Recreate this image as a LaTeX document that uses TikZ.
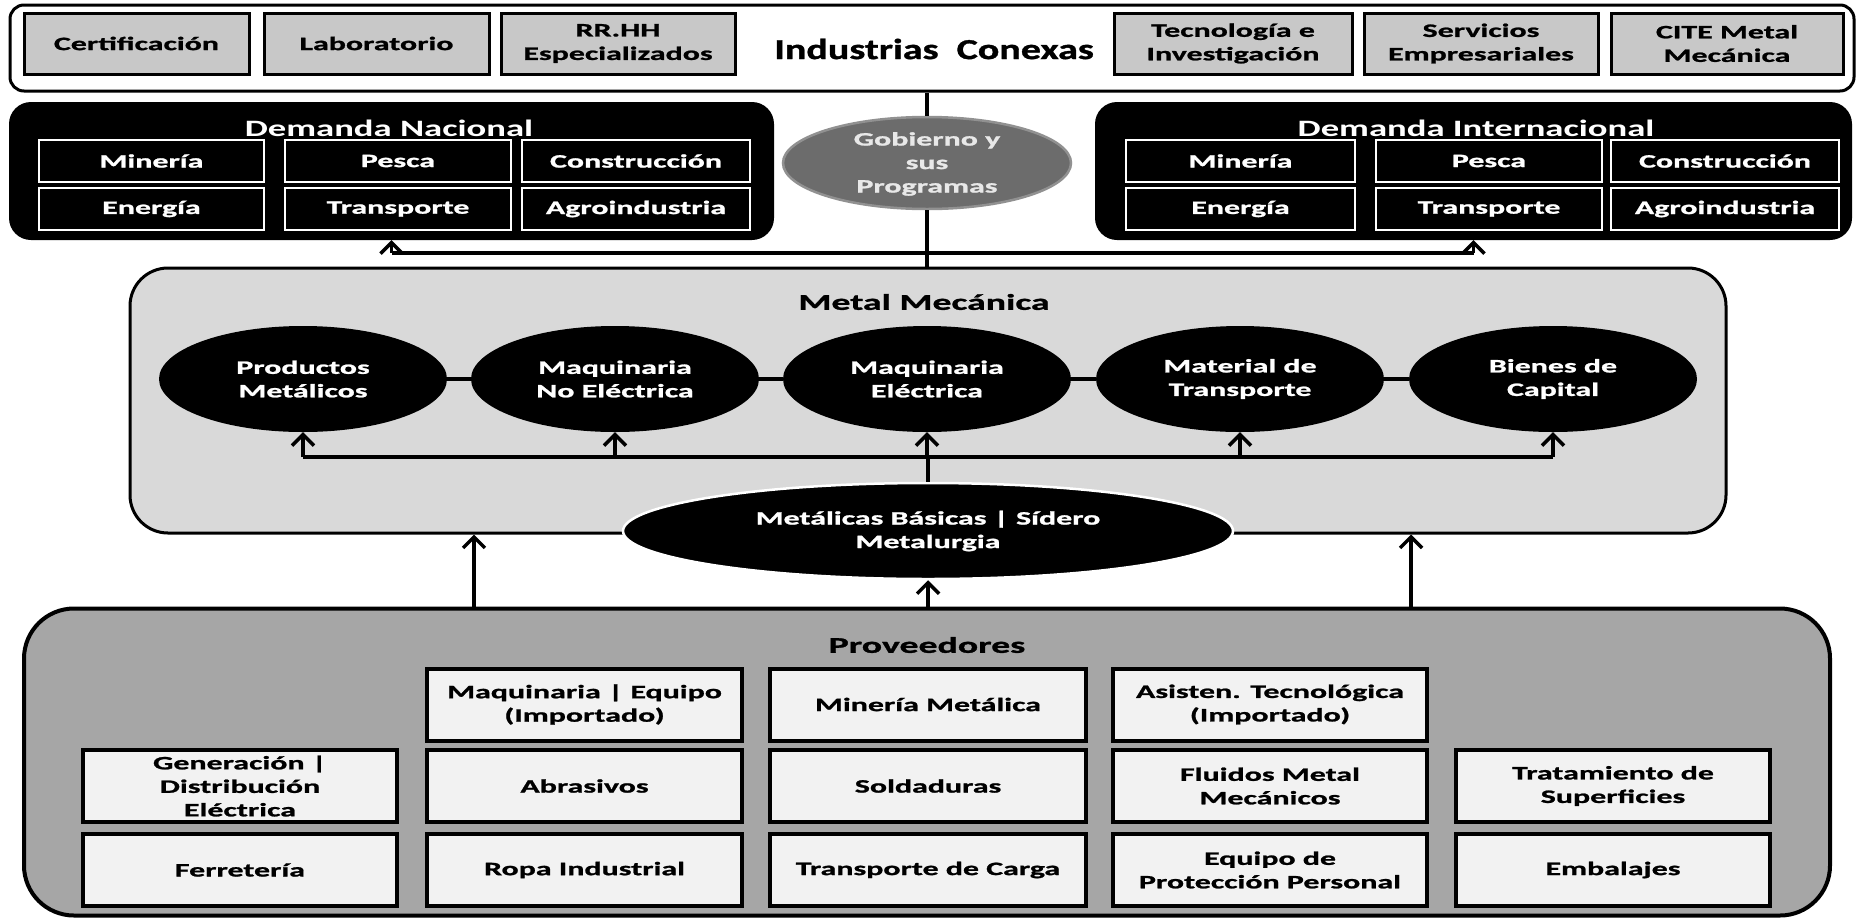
\documentclass[tikz,border=0pt]{standalone}
\usepackage{fontspec}
\setmainfont{Carlito}[FakeStretch=1.68, BoldFeatures={FakeBold=1.2}]
\newfontfamily\icfont{Carlito}[FakeStretch=1.38, BoldFeatures={FakeBold=1.2}]
\newfontfamily\dmfont{Carlito}[FakeStretch=1.56]
\usetikzlibrary{shapes.geometric,arrows.meta}
\definecolor{cTop}{RGB}{200,200,200}
\definecolor{cMM}{RGB}{217,217,217}
\definecolor{cProv}{RGB}{166,166,166}
\definecolor{cPBox}{RGB}{242,242,242}
\definecolor{cGob}{RGB}{108,108,108}
\definecolor{cGobRim}{RGB}{145,145,145}
\definecolor{cGobTxt}{RGB}{232,232,232}
\newcommand\fLbl{\fontsize{19}{23.5}\selectfont\bfseries}
\newcommand\fTtl{\fontsize{22.5}{26}\selectfont\bfseries}
\newcommand\fDem{\dmfont\fontsize{23.5}{28}\selectfont\bfseries}
\newcommand\fBig{\icfont\fontsize{29}{32}\selectfont\bfseries}
\begin{document}
\begin{tikzpicture}[x=1pt,y=-1pt,
  lbl/.style={font=\fLbl, align=center, inner sep=0pt},
  topg/.style={rectangle, draw=black, line width=3pt, fill=cTop, lbl, minimum height=61pt},
  dbox/.style={rectangle, fill=black, rounded corners=22pt, minimum height=138pt},
  dsub/.style={rectangle, draw=white, line width=2.5pt, fill=black, text=white, lbl, minimum height=42pt},
  pbox/.style={rectangle, draw=black, line width=4pt, fill=cPBox, lbl, minimum height=72pt},
  mmell/.style={ellipse, fill=black, text=white, lbl, minimum width=288pt, minimum height=106pt},
  conn/.style={line width=3.5pt},
  arr/.style={line width=3.5pt, -{Straight Barb[length=11pt,width=22pt]}},
]
\useasboundingbox (0,0) rectangle (1862,919);

% ---------- Industrias Conexas ----------
\node[rectangle, draw=black, line width=3pt, fill=white, rounded corners=14pt,
      minimum width=1844pt, minimum height=86pt] (ic) at (932,48) {};
\node[topg, minimum width=225pt] (cert) at (136.5,43.5) {Certificación};
\node[topg, minimum width=225pt] (lab) at (376.5,43.5) {Laboratorio};
\node[topg, minimum width=234pt] (rrhh) at (618,43.5) {RR.HH\\Especializados};
\node[font=\fBig, inner sep=0pt] (ict) at (934,49) {Industrias\ \ Conexas};
\node[topg, minimum width=238pt] (tec) at (1233,43.5) {Tecnología e\\Investigación};
\node[topg, minimum width=234pt] (serv) at (1481,43.5) {Servicios\\Empresariales};
\node[topg, minimum width=232pt] (cite) at (1727,43.5) {CITE Metal\\Mecánica};

% ---------- Demanda ----------
\node[dbox, minimum width=765pt] (dn) at (391.5,171) {};
\node[font=\fDem, text=white, inner sep=0pt, anchor=base] (dnt) at (389,136) {Demanda Nacional};
\node[dsub, minimum width=225pt] (dn1) at (151.5,161) {Minería};
\node[dsub, minimum width=226pt] (dn2) at (398,161) {Pesca};
\node[dsub, minimum width=228pt] (dn3) at (636,161) {Construcción};
\node[dsub, minimum width=225pt] (dn4) at (151.5,209) {Energía};
\node[dsub, minimum width=226pt] (dn5) at (398,209) {Transporte};
\node[dsub, minimum width=228pt] (dn6) at (636,209) {Agroindustria};

\node[dbox, minimum width=757pt] (di) at (1473.5,171) {};
\node[font=\fDem, text=white, inner sep=0pt, anchor=base] (dit) at (1476,136) {Demanda Internacional};
\node[dsub, minimum width=229pt] (di1) at (1240.5,161) {Minería};
\node[dsub, minimum width=226pt] (di2) at (1489,161) {Pesca};
\node[dsub, minimum width=228pt] (di3) at (1725,161) {Construcción};
\node[dsub, minimum width=229pt] (di4) at (1240.5,209) {Energía};
\node[dsub, minimum width=226pt] (di5) at (1489,209) {Transporte};
\node[dsub, minimum width=228pt] (di6) at (1725,209) {Agroindustria};

% ---------- Metal Mecanica ----------
\node[rectangle, draw=black, line width=3pt, fill=cMM, rounded corners=38pt,
      minimum width=1596pt, minimum height=265pt] (mm) at (928,400.5) {};
\node[font=\fTtl, inner sep=0pt] (mmt) at (924,302) {Metal Mecánica};

% ---------- Proveedores ----------
\node[rectangle, draw=black, line width=4pt, fill=cProv, rounded corners=50pt,
      minimum width=1806pt, minimum height=307pt] (prov) at (927,762) {};
\node[font=\fTtl, inner sep=0pt] (provt) at (927,645) {Proveedores};

\node[pbox, minimum width=315pt] (p1) at (584.5,704.5) {Maquinaria | Equipo\\(Importado)};
\node[pbox, minimum width=316pt] (p2) at (928,704.5) {Minería Metálica};
\node[pbox, minimum width=314pt] (p3) at (1270,704.5) {Asisten. Tecnológica\\(Importado)};
\node[pbox, minimum width=314pt] (p4) at (240,786) {Generación |\\Distribución\\Eléctrica};
\node[pbox, minimum width=315pt] (p5) at (584.5,786) {Abrasivos};
\node[pbox, minimum width=316pt] (p6) at (928,786) {Soldaduras};
\node[pbox, minimum width=314pt] (p7) at (1270,786) {Fluidos Metal\\Mecánicos};
\node[pbox, minimum width=314pt] (p8) at (1613,786) {Tratamiento de\\Superficies};
\node[pbox, minimum width=314pt] (p9) at (240,870) {Ferretería};
\node[pbox, minimum width=315pt] (p10) at (584.5,870) {Ropa Industrial};
\node[pbox, minimum width=316pt] (p11) at (928,870) {Transporte de Carga};
\node[pbox, minimum width=314pt] (p12) at (1270,870) {Equipo de\\Protección Personal};
\node[pbox, minimum width=314pt] (p13) at (1613,870) {Embalajes};

% ---------- Gobierno ----------
\node[ellipse, fill=cGob, draw=cGobRim, line width=2.5pt, inner sep=0pt,
      minimum width=288pt, minimum height=92pt] (gob) at (927,163) {};
\node[lbl, text=cGobTxt] (gobt) at (927,164) {Gobierno y\\sus\\Programas};

% ---------- ellipses in Metal Mecanica ----------
\node[mmell] (pm) at (303,379) {Productos\\Metálicos};
\node[mmell] (mne) at (615,379) {Maquinaria\\No Eléctrica};
\node[mmell] (me) at (927,379) {Maquinaria\\Eléctrica};
\node[mmell] (mt) at (1240,379) {Material de\\Transporte};
\node[mmell] (bc) at (1553,379) {Bienes de\\Capital};

\node[ellipse, fill=black, draw=white, line width=2.5pt, text=white, lbl,
      minimum width=610pt, minimum height=96pt] (met) at (928,531) {Metálicas Básicas | Sídero\\Metalurgia};

% ---------- connectors ----------
\coordinate (dbar) at (0,253);
\coordinate (mbar) at (0,457);
\coordinate (xL) at (474,0);
\coordinate (xR) at (1411,0);

\draw[conn] (gob.north) -- (gob.north |- ic.south);
\draw[conn] (gob.south |- mm.north) -- (gob.south);
\draw[conn] (dn.south |- dbar) -- (di.south |- dbar);
\draw[arr] (dn.south |- dbar) -- (dn.south);
\draw[arr] (di.south |- dbar) -- (di.south);

\draw[conn] (pm) -- (mne);
\draw[conn] (mne) -- (me);
\draw[conn] (me) -- (mt);
\draw[conn] (mt) -- (bc);
\draw[conn] (pm.south |- mbar) -- (bc.south |- mbar);
\draw[conn] (met.north) -- (met.north |- mbar);
\draw[arr] (pm.south |- mbar) -- (pm.south);
\draw[arr] (mne.south |- mbar) -- (mne.south);
\draw[arr] (me.south |- mbar) -- (me.south);
\draw[arr] (mt.south |- mbar) -- (mt.south);
\draw[arr] (bc.south |- mbar) -- (bc.south);

\draw[arr] (xL |- prov.north) -- (xL |- mm.south);
\draw[arr] (xR |- prov.north) -- (xR |- mm.south);
\draw[arr] (met.south |- prov.north) -- (met.south);
\end{tikzpicture}
\end{document}
